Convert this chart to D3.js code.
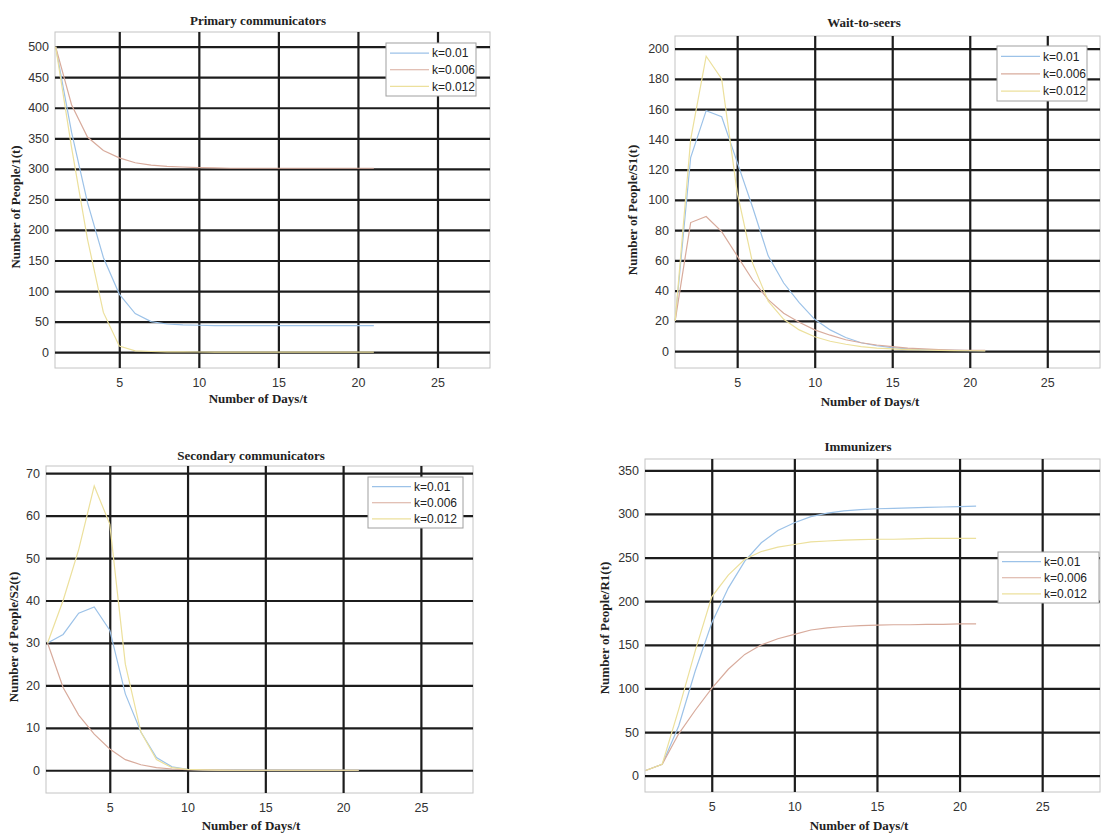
<!DOCTYPE html>
<html>
<head>
<meta charset="utf-8">
<script src="https://cdn.jsdelivr.net/npm/d3@7"></script>
<style>
  body { margin: 0; background: #fff; }
  svg { display: block; }
  .tick-label text { font-family: 'Liberation Sans', Arial, sans-serif; font-size: 12.5px; fill: #333; }
  .ax-title { font-family: 'Liberation Serif', 'Times New Roman', serif; font-size: 13px; font-weight: bold; fill: #222; }
  .legend-text { font-family: 'Liberation Sans', Arial, sans-serif; font-size: 12px; fill: #222; }
</style>
</head>
<body>
<svg width="1110" height="837"></svg>
<script>
// --- DATA ---
const days = [1, 2, 3, 4, 5, 6, 7, 8, 9, 10, 11, 12, 13, 14, 15, 16, 17, 18, 19, 20, 21];
const legendLabels = ['k=0.01', 'k=0.006', 'k=0.012'];
const xTicks = [5, 10, 15, 20, 25];

// Primary communicators I1(t)
const primaryK01  = [500, 360, 245, 155, 95, 63, 50, 46, 44.5, 44, 43.5, 43.5, 43.5, 43.5, 43.5, 43.5, 43.5, 43.5, 43.5, 43.5, 43.5];
const primaryK006 = [500, 405, 352, 330, 318, 310, 306, 304, 303, 302, 301.5, 301, 301, 301, 301, 301, 301, 301, 301, 301, 301];
const primaryK012 = [500, 335, 185, 65, 10, 2, 1, 0.5, 0.3, 0.2, 0.1, 0, 0, 0, 0, 0, 0, 0, 0, 0, 0];
const primaryTicks = [0, 50, 100, 150, 200, 250, 300, 350, 400, 450, 500];

// Wait-to-seers S1(t)
const waitK01  = [20, 128, 159, 155, 125, 95, 63, 45, 32, 21, 14, 9, 5.5, 3.5, 2.3, 1.5, 1, 0.7, 0.5, 0.3, 0.2];
const waitK006 = [20, 85, 89, 79, 63, 47, 34, 25, 19, 14, 10.5, 7.5, 5.5, 4, 3, 2, 1.5, 1, 0.7, 0.5, 0.4];
const waitK012 = [20, 140, 195, 180, 105, 58, 33, 21, 14, 9.5, 6.5, 4.5, 3, 2, 1.4, 1, 0.7, 0.5, 0.3, 0.2, 0.1];
const waitTicks = [0, 20, 40, 60, 80, 100, 120, 140, 160, 180, 200];

// Secondary communicators S2(t)
const secondaryK01  = [30, 32, 37, 38.5, 33, 18, 9, 3, 0.8, 0.2, 0.1, 0.05, 0, 0, 0, 0, 0, 0, 0, 0, 0];
const secondaryK006 = [30, 19.5, 13, 8.5, 5, 2.5, 1.3, 0.6, 0.3, 0.15, 0.1, 0.05, 0, 0, 0, 0, 0, 0, 0, 0, 0];
const secondaryK012 = [30, 40, 52, 67, 58, 25, 9, 2.5, 0.6, 0.2, 0.1, 0.05, 0, 0, 0, 0, 0, 0, 0, 0, 0];
const secondaryTicks = [0, 10, 20, 30, 40, 50, 60, 70];

// Immunizers R1(t)
const immuneK01  = [6, 13, 57, 120, 175, 215, 246, 267, 281, 290, 297, 301, 303.5, 305, 306, 306.5, 307, 307.5, 308, 308.5, 309];
const immuneK006 = [6, 13, 48, 75, 100, 122, 139, 150, 157, 162, 167, 169.5, 171, 172, 172.5, 173, 173, 173.5, 173.5, 174, 174];
const immuneK012 = [6, 13, 76, 143, 205, 230, 248, 257, 262, 265, 268, 269, 270, 270.5, 271, 271, 271.5, 272, 272, 272, 272];
const immuneTicks = [0, 50, 100, 150, 200, 250, 300, 350];

// washed-out versions of the matlab default colours, as in the scan
const colors = ['#9cc2e8', '#d8ab9c', '#ece09c'];

// --- PANELS ---
const panels = [
    {
        title: 'Primary communicators', yLabel: 'Number of People/1(t)',
        series: [primaryK01, primaryK006, primaryK012], yTicks: primaryTicks,
        box: { l: 55, t: 32, r: 490, b: 368 }, xDomain: [0.96, 28.3], yDomain: [-26, 524],
        titlePos: [258, 25], xLabelPos: [258, 403], yLabelPos: [15, 207],
        legend: { x: 386, y: 43, w: 90, h: 53 }
    },
    {
        title: 'Wait-to-seers', yLabel: 'Number of People/S1(t)',
        series: [waitK01, waitK006, waitK012], yTicks: waitTicks,
        box: { l: 675, t: 36, r: 1100, b: 368 }, xDomain: [0.99, 28.4], yDomain: [-11.2, 208.4],
        titlePos: [864, 27], xLabelPos: [870, 406], yLabelPos: [632, 210],
        legend: { x: 997, y: 46, w: 90, h: 55 }
    },
    {
        title: 'Secondary communicators', yLabel: 'Number of People/S2(t)',
        series: [secondaryK01, secondaryK006, secondaryK012], yTicks: secondaryTicks,
        box: { l: 46, t: 466, r: 473, b: 793 }, xDomain: [0.9, 28.35], yDomain: [-5.36, 71.7],
        titlePos: [251, 460], xLabelPos: [251, 830], yLabelPos: [13, 637],
        legend: { x: 368, y: 477, w: 95, h: 51 }
    },
    {
        title: 'Immunizers', yLabel: 'Number of People/R1(t)',
        series: [immuneK01, immuneK006, immuneK012], yTicks: immuneTicks,
        box: { l: 645, t: 459, r: 1100, b: 792 }, xDomain: [0.96, 28.5], yDomain: [-18.7, 363],
        titlePos: [858, 451], xLabelPos: [859, 830], yLabelPos: [604, 628],
        legend: { x: 998, y: 552, w: 101, h: 51 }
    }
];

const svg = d3.select('svg');

panels.forEach(p => {
    const { l, t, r, b } = p.box;
    const w = r - l, h = b - t;
    const x = d3.scaleLinear().domain(p.xDomain).range([0, w]);
    const y = d3.scaleLinear().domain(p.yDomain).range([h, 0]);

    const g = svg.append('g').attr('transform', `translate(${l},${t})`);

    g.append('rect')
        .attr('width', w).attr('height', h)
        .attr('fill', '#fff')
        .attr('stroke', '#c4c4c4').attr('stroke-width', 1);

    // grid
    const gridY = g.append('g')
        .call(d3.axisLeft(y).tickValues(p.yTicks).tickSize(-w).tickFormat(''));
    const gridX = g.append('g').attr('transform', `translate(0,${h})`)
        .call(d3.axisBottom(x).tickValues(xTicks).tickSize(-h).tickFormat(''));
    [gridX, gridY].forEach(gr => {
        gr.select('.domain').remove();
        gr.selectAll('line').attr('stroke', '#1c1c1c').attr('stroke-width', 2.2);
    });

    // tick labels
    const yAxis = g.append('g').attr('class', 'tick-label')
        .call(d3.axisLeft(y).tickValues(p.yTicks).tickSize(0).tickPadding(6));
    const xAxis = g.append('g').attr('class', 'tick-label').attr('transform', `translate(0,${h})`)
        .call(d3.axisBottom(x).tickValues(xTicks).tickSize(0).tickPadding(10));
    [xAxis, yAxis].forEach(ax => {
        ax.select('.domain').remove();
        ax.attr('font-family', null).attr('font-size', null);
    });

    // curves
    const line = d3.line()
        .x((d, i) => x(days[i]))
        .y(d => y(d));
    p.series.forEach((s, i) => {
        g.append('path')
            .datum(s)
            .attr('fill', 'none')
            .attr('stroke', colors[i])
            .attr('stroke-width', 1.2)
            .attr('d', line);
    });

    // legend
    const lg = p.legend;
    const leg = svg.append('g').attr('transform', `translate(${lg.x},${lg.y})`);
    leg.append('rect')
        .attr('width', lg.w).attr('height', lg.h)
        .attr('fill', '#fff').attr('stroke', '#a0a0a0').attr('stroke-width', 1);
    legendLabels.forEach((lab, i) => {
        const ry = lg.h * 0.19 + i * lg.h * 0.315;
        leg.append('line')
            .attr('x1', 4).attr('x2', 43).attr('y1', ry).attr('y2', ry)
            .attr('stroke', colors[i]).attr('stroke-width', 1.2);
        leg.append('text')
            .attr('class', 'legend-text')
            .attr('x', 46).attr('y', ry).attr('dy', '0.35em')
            .text(lab);
    });

    // titles
    svg.append('text').attr('class', 'ax-title')
        .attr('x', p.titlePos[0]).attr('y', p.titlePos[1])
        .attr('text-anchor', 'middle').text(p.title);
    svg.append('text').attr('class', 'ax-title')
        .attr('x', p.xLabelPos[0]).attr('y', p.xLabelPos[1])
        .attr('text-anchor', 'middle').text('Number of Days/t');
    svg.append('text').attr('class', 'ax-title')
        .attr('transform', `translate(${p.yLabelPos[0]},${p.yLabelPos[1]}) rotate(-90)`)
        .attr('text-anchor', 'middle').attr('dy', '0.35em')
        .text(p.yLabel);
});
</script>
</body>
</html>
